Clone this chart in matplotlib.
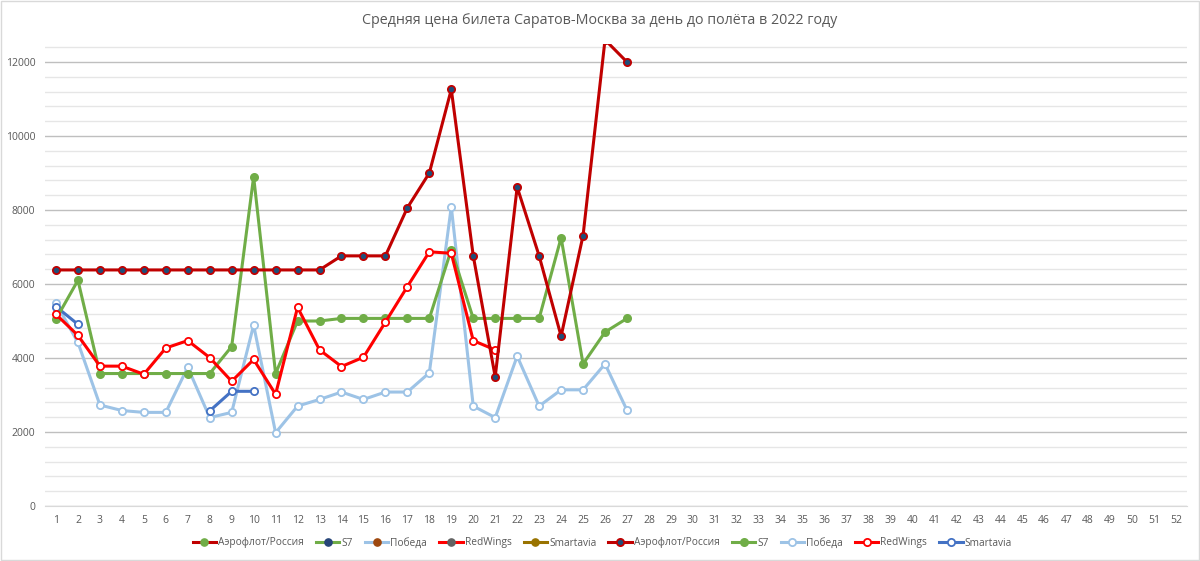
import matplotlib
matplotlib.use("Agg")
import matplotlib.pyplot as plt
from matplotlib.lines import Line2D
from matplotlib.patches import Rectangle
import numpy as np

plt.rcParams['font.family'] = ['Open Sans', 'DejaVu Sans']

title = "Средняя цена билета Саратов-Москва за день до полёта в 2022 году"
weeks = list(range(1, 53))

days_aeroflot = list(range(1, 28))
aeroflot = [6380, 6380, 6380, 6380, 6380, 6380, 6380, 6380, 6380, 6380, 6380, 6380, 6380,
            6760, 6760, 6760, 8060, 9000, 11260, 6760, 3490, 8620, 6760, 4590, 7310, 12600, 12000]

days_s7 = list(range(1, 28))
s7 = [5050, 6100, 3580, 3580, 3580, 3580, 3580, 3580, 4310, 8900, 3580, 5000, 5000,
      5070, 5070, 5070, 5070, 5070, 6930, 5070, 5070, 5070, 5070, 7250, 3840, 4700, 5070]

days_pobeda = list(range(1, 28))
pobeda = [5480, 4420, 2730, 2580, 2530, 2530, 3750, 2390, 2530, 4890, 1980, 2700, 2880,
          3080, 2880, 3080, 3080, 3600, 8090, 2700, 2390, 4050, 2700, 3140, 3140, 3840, 2590]

days_redwings = list(range(1, 22))
redwings = [5180, 4610, 3780, 3780, 3560, 4270, 4470, 4010, 3370, 3960, 3020, 5370, 4220,
            3770, 4020, 4970, 5930, 6870, 6830, 4470, 4220]

days_smartavia = [1, 2, 3, 4, 5, 6, 7, 8, 9, 10]
smartavia = [5390, 4910, None, None, None, None, None, 2570, 3100, 3100]

names = ["Аэрофлот/Россия", "S7", "Победа", "RedWings", "Smartavia"]

fig = plt.figure(figsize=(12, 5.61), dpi=100)
ax = fig.add_axes([45/1200, 1 - 506/561, (1187 - 45)/1200, (506 - 43.5)/561])

ax.set_xlim(0.5, 52.5)
ax.set_ylim(0, 12500)
ax.set_yticks(np.arange(0, 12001, 2000))
ax.set_yticks(np.arange(0, 12500, 400), minor=True)
ax.yaxis.grid(True, which='major', color='#BFBFBF', lw=1.0)
ax.yaxis.grid(True, which='minor', color='#E6E6E6', lw=1.0)
ax.set_axisbelow(True)
ax.set_xticks(weeks)
ax.set_xticklabels([str(w) for w in weeks])
ax.tick_params(axis='both', which='both', length=0, labelsize=7.5, labelcolor='#595959')
ax.tick_params(axis='x', pad=6.5)
ax.tick_params(axis='y', pad=7)
for s in ['top', 'right', 'left']:
    ax.spines[s].set_visible(False)
ax.spines['bottom'].set_color('#D9D9D9')

lw = 2.2
ms = 5.2

def arr(v):
    return np.array([np.nan if x is None else x for x in v], dtype=float)

series = [
    (days_aeroflot, aeroflot, '#C00000', '#1F4E79', '#C00000'),
    (days_s7, s7, '#70AD47', '#70AD47', '#70AD47'),
    (days_pobeda, pobeda, '#9DC3E6', 'white', '#9DC3E6'),
    (days_redwings, redwings, '#FF0000', 'white', '#FF0000'),
    (days_smartavia, smartavia, '#4472C4', 'white', '#4472C4'),
]
order = [2, 4, 1, 3, 0]
for i in order:
    d, v, c, mf, me = series[i]
    ax.plot(d, arr(v), color=c, lw=lw, marker='o', ms=ms, mfc=mf, mec=me, mew=1.3,
            zorder=3 + (1 if i == 0 else 0), clip_on=True)

# legend
first_set = [
    ('#C00000', '#70AD47', '#70AD47'),
    ('#70AD47', '#264478', '#264478'),
    ('#9DC3E6', '#9E480E', '#9E480E'),
    ('#FF0000', '#636363', '#636363'),
    ('#997300', '#997300', '#997300'),
]
handles = []
labels = []
for (c, mf, me), n in zip(first_set, names):
    handles.append(Line2D([], [], color=c, lw=lw, marker='o', ms=ms, mfc=mf, mec=me))
    labels.append(n)
for (d, v, c, mf, me), n in zip(series, names):
    handles.append(Line2D([], [], color=c, lw=lw, marker='o', ms=ms, mfc=mf, mec=me, mew=1.3))
    labels.append(n)
leg = fig.legend(handles, labels, loc='center', bbox_to_anchor=(0.502, 1 - 543/561), ncol=10,
                 frameon=False, fontsize=7.3, handlelength=2.3, columnspacing=1.2,
                 handletextpad=0.2, borderaxespad=0)
for t in leg.get_texts():
    t.set_color('#595959')

fig.text(0.5, 1 - 20/561, title, ha='center', va='center', fontsize=10.3, color='#595959')

fig.patches.append(Rectangle((0.0005, 0.001), 0.999, 0.998, transform=fig.transFigure,
                             fill=False, edgecolor='#D9D9D9', lw=1.0))

fig.savefig('out.png', dpi=100)
